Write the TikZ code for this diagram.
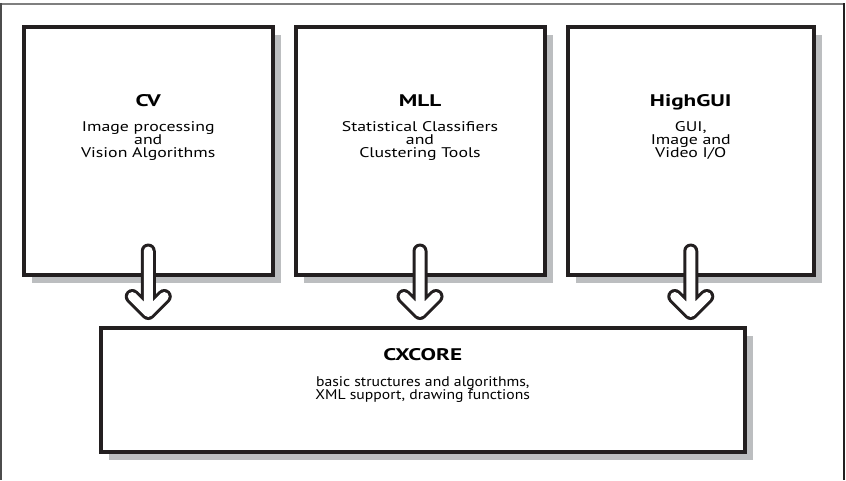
\documentclass[tikz,border=0pt]{standalone}
\usepackage{fontspec}
\setmainfont{PT Sans}
\newfontfamily\titlefont{PT Sans}[FakeStretch=1.38]
\newfontfamily\descfont{PT Sans}[FakeStretch=1.27]
\newfontfamily\corefont{PT Sans}[FakeStretch=1.12]
\usetikzlibrary{positioning, shadows}
\definecolor{boxblack}{HTML}{231F20}
\definecolor{shadowgray}{HTML}{BCBEC0}
\definecolor{framegray}{HTML}{7F7F7F}

\begin{document}
\begin{tikzpicture}[x=1pt, y=-1pt]
\tikzstyle{module} = [rectangle, draw=boxblack, line width=4pt, fill=white, inner sep=0pt, outer sep=0pt, minimum height=248.5pt, drop shadow={shadow xshift=8pt, shadow yshift=-8pt, fill=shadowgray, opacity=1}]
\tikzstyle{title} = [font=\fontsize{16.8}{16.8}\titlefont\bfseries, anchor=base, inner sep=0pt]
\tikzstyle{desc} = [font=\fontsize{14}{13}\descfont, align=center, anchor=base, inner sep=0pt]
\tikzstyle{coredesc} = [desc, font=\fontsize{14}{13}\corefont]
\tikzstyle{bigarrow} = [draw=boxblack, line width=3pt, double=white, double distance=9pt, line cap=round, line join=round]

\useasboundingbox (0,0) rectangle (846,480);
% outer frame
\draw[framegray, line width=2pt] (0,3.7) -- (845,3.7);
\draw[black!70, line width=2pt] (1,3) -- (1,480);
\draw[boxblack, line width=1.7pt] (844.2,3) -- (844.2,480);

% modules
\node (cv) [module, minimum width=248.5pt] at (148.25,150.75) {};
\node (mll) [module, minimum width=249pt] at (420,150.75) {};
\node (highgui) [module, minimum width=246.5pt] at (690.75,150.75) {};
\node (cxcore) [module, minimum width=644.5pt, minimum height=124.5pt] at (422.75,389.75) {};

% labels (base = last line)
\node (cvtitle) [title] at ([yshift=-80pt]cv.north) {CV};
\node (cvtext) [desc] at ([yshift=-131.2pt]cv.north) {Image processing\\and\\Vision Algorithms};
\node (mlltitle) [title] at ([yshift=-80pt]mll.north) {MLL};
\node (mlltext) [desc] at ([yshift=-131.2pt]mll.north) {Statistical Classifiers\\and\\Clustering Tools};
\node (highguititle) [title] at ([yshift=-80pt]highgui.north) {HighGUI};
\node (highguitext) [desc] at ([yshift=-131.2pt]highgui.north) {GUI,\\Image and\\Video I/O};
\node (cxcoretitle) [title] at ([yshift=-32.5pt]cxcore.north) {CXCORE};
\node (cxcoretext) [coredesc] at ([yshift=-72pt]cxcore.north) {basic structures and algorithms,\\XML support, drawing functions};

% hollow arrows
\foreach \m in {cv, mll, highgui}
  \draw[bigarrow] ([yshift=24pt]\m.south) -- ([yshift=15pt]cxcore.north -| \m.south) coordinate (\m tip) ++(-16pt,16pt) -- (\m tip) -- ++(16pt,16pt);

\end{tikzpicture}
\end{document}
